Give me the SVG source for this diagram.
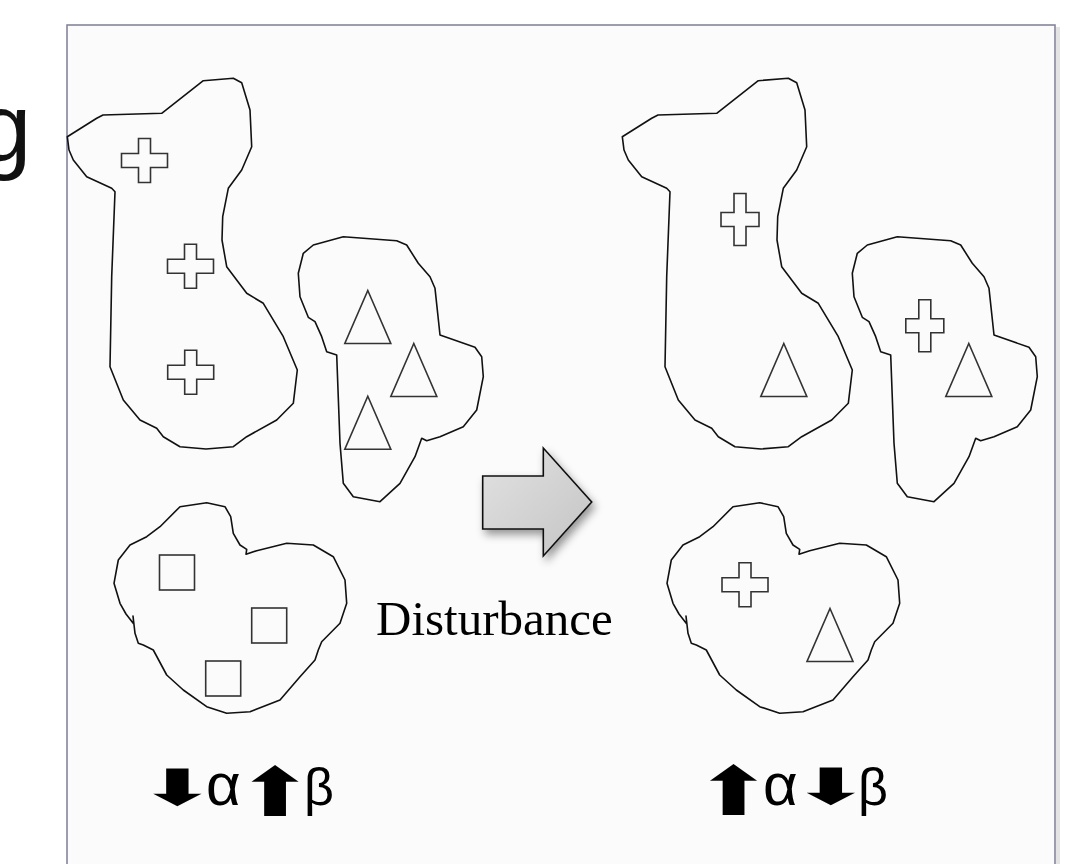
<svg xmlns="http://www.w3.org/2000/svg" width="1085" height="864" viewBox="0 0 1085 864">
  <style>
    .blob { fill: none; stroke: #111; stroke-width: 1.6; stroke-linejoin: round; }
    .sym { fill: none; stroke: #333; stroke-width: 1.6; stroke-linejoin: miter; }
    .alpha { font-family: "Liberation Sans", Arial, sans-serif; font-size: 60px; fill: #000; }
    .beta { font-family: "Liberation Sans", Arial, sans-serif; font-size: 52px; fill: #000; }
    .arr { font-family: "DejaVu Sans", sans-serif; font-size: 50px; fill: #000; text-anchor: middle; }
    .dist { font-family: "Liberation Serif", "Times New Roman", serif; font-size: 49px; fill: #000; }
  </style>
  <defs>
    <path id="blobA" d="M67.3,136.7 L96.7,118.3 L103,115 L161.7,113.3 L203.3,80.7 L233.3,78.3 L241.7,82.7 L250,110 L251.7,146.7 L241.7,170 L228.3,188.3 L222.7,216.7 L222,240 L226.7,266.7 L246.7,293.3 L263.3,303.3 L283.3,336.7 L297.3,370 L293.3,403.3 L276.7,420 L246.7,436.7 L233.3,446.7 L206,449 L180,446.7 L163.3,436.7 L156.7,428.3 L140,420 L123.3,400 L110,366.7 L111.7,276.7 L115,191.7 L111.7,188.3 L86.7,176.7 L73.3,160 L69,150 Z"/>
    <path id="blobB" d="M303.3,253.3 L313.3,245 L343.3,236.7 L396.7,240.7 L406.7,245 L418.3,263.3 L430,276.7 L435,288.3 L440,335 L475,347.3 L481.7,356.7 L483.3,376.7 L476.7,410 L463.3,426.7 L440,436.7 L426.7,440.7 L421.7,438.3 L415,456.7 L400,483.3 L380,501.7 L353.3,496.7 L343.3,483.3 L340,443.3 L336.7,355 L326.7,351.7 L321.7,336.7 L315,321.7 L308.3,317.3 L300,296.7 L298.3,273.3 Z"/>
    <path id="blobC" d="M180,506.7 L206.7,502.7 L225,506.7 L230.7,516.7 L233.3,533.3 L240,545 L246.7,549.3 L246,554.3 L256.7,550.7 L286.7,543.3 L313.3,545 L333.3,556.7 L345,580 L346.7,603.3 L340,623.3 L321.7,641.7 L318.3,650 L315,660 L300,676.7 L280,700 L250,711.7 L226.7,713.3 L206.7,706.7 L183.3,690 L166.7,675 L153.3,650 L143.3,645 L138.3,643.3 L135,633.3 L133,616 L133.8,624 L126,614 L120,603.3 L114,583.3 L118.3,560 L130,545 L146.7,536.7 L160,526.7 Z"/>
    <path id="crossW" d="M-6,-22 H6 V-7 H23 V7 H6 V22 H-6 V7 H-23 V-7 H-6 Z"/>
    <path id="crossT" d="M-6,-26 H6 V-7 H19 V7 H6 V26 H-6 V7 H-19 V-7 H-6 Z"/>
    <path id="tri" d="M0,-26.5 L23,26.5 L-23,26.5 Z"/>
    <rect id="sq" x="0" y="0" width="35" height="35"/>
    <linearGradient id="arrowFill" x1="0" y1="0" x2="1" y2="1">
      <stop offset="0" stop-color="#e2e2e2"/>
      <stop offset="1" stop-color="#c4c4c4"/>
    </linearGradient>
    <filter id="shadow" x="-30%" y="-30%" width="160%" height="160%">
      <feDropShadow dx="3" dy="5" stdDeviation="4" flood-color="#000" flood-opacity="0.4"/>
    </filter>
  </defs>

  <rect x="0" y="0" width="1085" height="864" fill="#fff"/>
  <line x1="1058" y1="27" x2="1058" y2="864" stroke="#e4e4e4" stroke-width="4"/>
  <rect id="frame" x="67" y="25" width="988" height="900" fill="#fbfbfb" stroke="#7d7d95" stroke-width="1.5"/>

  <text x="-22" y="161" font-family="'Liberation Sans', Arial, sans-serif" font-size="96" fill="#111">g</text>

  <g id="left-upper">
    <use href="#blobA" class="blob"/>
    <use href="#crossW" class="sym" x="144.5" y="160.5"/>
    <use href="#crossW" class="sym" x="190.5" y="266.3"/>
    <use href="#crossW" class="sym" x="190.7" y="372.3"/>
  </g>
  <g id="left-middle">
    <use href="#blobB" class="blob"/>
    <use href="#tri" class="sym" x="367.8" y="317"/>
    <use href="#tri" class="sym" x="413.8" y="370"/>
    <use href="#tri" class="sym" x="367.8" y="422.7"/>
  </g>
  <g id="left-lower">
    <use href="#blobC" class="blob"/>
    <use href="#sq" class="sym" x="159.5" y="555"/>
    <use href="#sq" class="sym" x="251.7" y="608"/>
    <use href="#sq" class="sym" x="205.7" y="661"/>
  </g>

  <g id="right-upper">
    <use href="#blobA" class="blob" transform="translate(555,0)"/>
    <use href="#crossT" class="sym" x="740" y="219.5"/>
    <use href="#tri" class="sym" x="783.8" y="370"/>
  </g>
  <g id="right-middle">
    <use href="#blobB" class="blob" transform="translate(554,0)"/>
    <use href="#crossT" class="sym" x="924.8" y="325.8"/>
    <use href="#tri" class="sym" x="968.8" y="370"/>
  </g>
  <g id="right-lower">
    <use href="#blobC" class="blob" transform="translate(553,0)"/>
    <use href="#crossW" class="sym" x="745" y="584.7"/>
    <use href="#tri" class="sym" x="830" y="635"/>
  </g>

  <g id="connectors">
    <polygon points="482.7,476 543.3,476 543.3,448 591.7,502 543.3,556 543.3,529 482.7,529" fill="url(#arrowFill)" stroke="#111" stroke-width="1.6" stroke-linejoin="miter" filter="url(#shadow)"/>
  </g>

  <g id="disturbance-label">
    <text class="dist" x="376" y="635">Disturbance</text>
  </g>

  <g id="left-label">
    <text class="arr" transform="translate(177.5,805) scale(1.95,1)">⬇</text>
    <text class="alpha" x="206" y="805">α</text>
    <text class="arr" transform="translate(275,816) scale(1.9,1.35)">⬆</text>
    <text class="beta" x="304" y="805">β</text>
  </g>
  <g id="right-label">
    <text class="arr" transform="translate(733.5,815) scale(1.9,1.35)">⬆</text>
    <text class="alpha" x="763" y="805">α</text>
    <text class="arr" transform="translate(831,804) scale(1.95,1)">⬇</text>
    <text class="beta" x="858" y="805">β</text>
  </g>
</svg>
